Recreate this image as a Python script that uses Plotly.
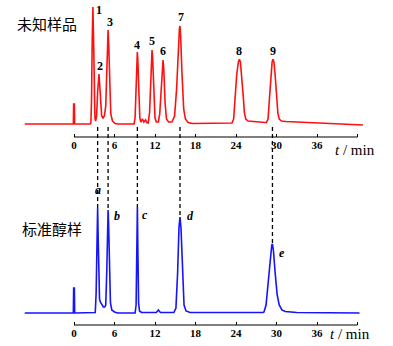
import plotly.graph_objects as go

# ---- Unknown sample chromatogram: retention time (min) vs. detector response ----
sample_time = [
    -7.3, -0.1, -0.05, 0.05, 0.1, 2.4,
    2.5, 2.6, 2.7, 2.8, 2.9, 3.0, 3.1, 3.2,
    3.35, 3.5, 3.62, 3.7, 3.8, 3.95, 4.1, 4.3,
    4.5, 4.7, 4.85, 4.97, 5.05, 5.15, 5.3, 5.45, 5.7, 6.1, 6.5,
    8.9, 9.05, 9.2, 9.32, 9.38, 9.45, 9.6, 9.75, 9.9, 10.15, 10.35, 10.6, 10.8,
    11.0, 11.2, 11.38, 11.5, 11.56, 11.65, 11.8, 12.0, 12.2,
    12.5, 12.7, 12.9, 13.1, 13.19, 13.3, 13.5, 13.7, 14.0,
    14.5, 14.9, 15.2, 15.5, 15.62, 15.7, 15.8, 16.0, 16.25, 16.5, 16.9, 17.5,
    22.9, 23.4, 23.65, 23.85, 24.1, 24.35, 24.5, 24.65, 24.85, 25.05, 25.25, 25.45, 25.8, 26.4, 27.5,
    28.3, 28.5, 28.75, 28.95, 29.15, 29.35, 29.48, 29.62, 29.8, 30.0, 30.2, 30.4, 30.75, 31.4, 35.0, 42.8,
]
sample_signal = [
    0, 0, 20, 20, 0, 0,
    1, 25, 85, 117, 85, 30, 6, 3,
    8, 32, 48, 50, 40, 15, 8, 6,
    8, 18, 50, 85, 94, 78, 35, 10, 3, 0.5, 0,
    0, 6, 45, 70, 72, 65, 25, 6, 2, 5, 2, 4, 1.5,
    1, 12, 50, 72, 74, 66, 30, 6, 2,
    2, 10, 35, 60, 64, 55, 20, 5, 2,
    2, 8, 35, 85, 96, 98, 88, 50, 15, 5, 1.5, 0.5,
    0.5, 1, 5, 25, 49, 62, 64.7, 62, 49, 30, 11, 5, 3, 2.5, 1.5,
    1.5, 1.5, 5, 25, 47, 62, 64.7, 62, 49, 30, 11, 5, 3, 2.5, 1.5, -1,
]
sample_peak_labels = ["1", "2", "3", "4", "5", "6", "7", "8", "9"]
sample_peak_times = [2.8, 3.7, 5.05, 9.38, 11.56, 13.19, 15.7, 24.5, 29.48]
sample_peak_heights = [117, 50, 94, 72, 74, 64, 98, 64.7, 64.7]

# ---- Standard alcohol mixture chromatogram ----
std_time = [
    -7.3, -0.1, -0.05, 0.05, 0.1, 3.0,
    3.15, 3.28, 3.4, 3.5, 3.58, 3.68, 3.78, 3.9, 4.1, 4.35, 4.55,
    4.7, 4.85, 4.97, 5.05, 5.13, 5.25, 5.4, 5.6, 6.0, 6.5,
    9.05, 9.2, 9.3, 9.39, 9.47, 9.57, 9.7, 10.0,
    12.2, 12.5, 12.8,
    14.8, 15.1, 15.35, 15.55, 15.7, 15.85, 16.05, 16.3, 16.6, 17.2,
    28.0, 28.15, 28.45, 28.75, 29.05, 29.3, 29.4, 29.55, 29.8, 30.1, 30.4, 30.8, 31.3, 33.0, 42.3,
]
std_signal = [
    0, 0, 25, 25, 0, 0,
    0.5, 20, 75, 105, 75, 30, 14, 11, 8, 6, 6,
    8, 40, 90, 103, 88, 40, 10, 3, 1, 0,
    0, 8, 60, 106, 60, 10, 2, 0.5,
    0.5, 3, 0.5,
    0.5, 5, 40, 85, 96, 85, 40, 8, 2, 0.5,
    0.5, 1, 8, 30, 55, 68, 69, 62, 40, 18, 8, 3, 1.5, 0.5, 0,
]
std_peak_labels = ["a", "b", "c", "d", "e"]
std_peak_times = [3.5, 5.05, 9.39, 15.7, 29.4]
std_peak_heights = [105, 103, 106, 96, 69]

tick_vals = [0, 6, 12, 18, 24, 30, 36, 42]
tick_text = ["0", "6", "12", "18", "24", "30", "36", ""]

# ---- layout geometry ----
W, H = 393, 346
x_range = [-74 / 6.75, (W - 74) / 6.75]
top_domain = [1 - 137 / H, 1.0]
top_range = [-13, 124]
bot_domain = [1 - 325 / H, 1 - 175 / H]
bot_range = [-12, 138]
axis_end = 42

red = "#ff1010"
blue = "#1414ff"
serif = "Liberation Serif, Times New Roman, serif"
cjk = "Noto Sans CJK SC"


def paper_y(value, domain, rng):
    return domain[0] + (value - rng[0]) / (rng[1] - rng[0]) * (domain[1] - domain[0])


fig = go.Figure()
fig.add_trace(go.Scatter(x=sample_time, y=sample_signal, mode="lines",
                         line=dict(color=red, width=1.6), xaxis="x", yaxis="y",
                         hoverinfo="skip", showlegend=False))
fig.add_trace(go.Scatter(x=std_time, y=std_signal, mode="lines",
                         line=dict(color=blue, width=1.6), xaxis="x2", yaxis="y2",
                         hoverinfo="skip", showlegend=False))

axis_style = dict(range=x_range, domain=[0, 1], showgrid=False, zeroline=False,
                  showline=False, ticks="inside", ticklen=3, tickwidth=1,
                  tickcolor="black", tickvals=tick_vals, ticktext=tick_text,
                  tickfont=dict(family=serif, size=11, color="black", weight="bold"),
                  fixedrange=True)

fig.update_layout(
    width=W, height=H,
    margin=dict(l=0, r=0, t=0, b=0),
    paper_bgcolor="white", plot_bgcolor="white",
    xaxis=dict(anchor="y", **axis_style),
    yaxis=dict(domain=top_domain, range=top_range, visible=False, fixedrange=True),
    xaxis2=dict(anchor="y2", **axis_style),
    yaxis2=dict(domain=bot_domain, range=bot_range, visible=False, fixedrange=True),
)

shapes = []
# time axis lines
for xr, yr in (("x", "y domain"), ("x2", "y2 domain")):
    shapes.append(dict(type="line", xref=xr, yref=yr, x0=0, x1=axis_end, y0=0, y1=0,
                       line=dict(color="black", width=1.2)))
# dashed connectors between matching peaks of the two runs
y_top = paper_y(-3, top_domain, top_range)
for t, h in zip(std_peak_times, std_peak_heights):
    shapes.append(dict(type="line", xref="x", yref="paper", x0=t, x1=t,
                       y0=y_top, y1=paper_y(h, bot_domain, bot_range),
                       line=dict(color="black", width=1.3, dash="4px,3px")))
fig.update_layout(shapes=shapes)

annotations = []
sample_label_shift = [(6, -3), (1, 8), (2, 8), (0, 7), (0, 9), (0, 9), (1, 9), (0, 8), (0, 8)]
for lab, t, h, (dx, dy) in zip(sample_peak_labels, sample_peak_times, sample_peak_heights,
                               sample_label_shift):
    annotations.append(dict(x=t, y=h, xref="x", yref="y", text=f"<b>{lab}</b>",
                            showarrow=False, xanchor="center", yanchor="middle",
                            xshift=dx, yshift=dy,
                            font=dict(family=serif, size=12, color="black")))
std_label_shift = [(0, 18), (9, -6), (8, -8), (11, 1), (10, -9)]
for lab, t, h, (dx, dy) in zip(std_peak_labels, std_peak_times, std_peak_heights,
                               std_label_shift):
    annotations.append(dict(x=t, y=h, xref="x2", yref="y2", text=f"<b><i>{lab}</i></b>",
                            showarrow=False, xanchor="center", yanchor="middle",
                            xshift=dx, yshift=dy,
                            font=dict(family=serif, size=12, color="black")))
# panel titles
annotations.append(dict(x=15 / W, y=1 - 24 / H, xref="paper", yref="paper", text="未知样品",
                        showarrow=False, xanchor="left", yanchor="middle",
                        font=dict(family=cjk, size=15, color="black")))
annotations.append(dict(x=20 / W, y=1 - 228 / H, xref="paper", yref="paper", text="标准醇样",
                        showarrow=False, xanchor="left", yanchor="middle",
                        font=dict(family=cjk, size=15, color="black")))
# axis titles
annotations.append(dict(x=41.6, y=1 - 150 / H, xref="x", yref="paper", text="<i>t</i> / min",
                        showarrow=False, xanchor="center", yanchor="middle",
                        font=dict(family=serif, size=15, color="black")))
annotations.append(dict(x=40.9, y=1 - 334 / H, xref="x2", yref="paper", text="<i>t</i> / min",
                        showarrow=False, xanchor="center", yanchor="middle",
                        font=dict(family=serif, size=15, color="black")))
fig.update_layout(annotations=annotations)

fig.write_html("out.html", config={"displayModeBar": False})
